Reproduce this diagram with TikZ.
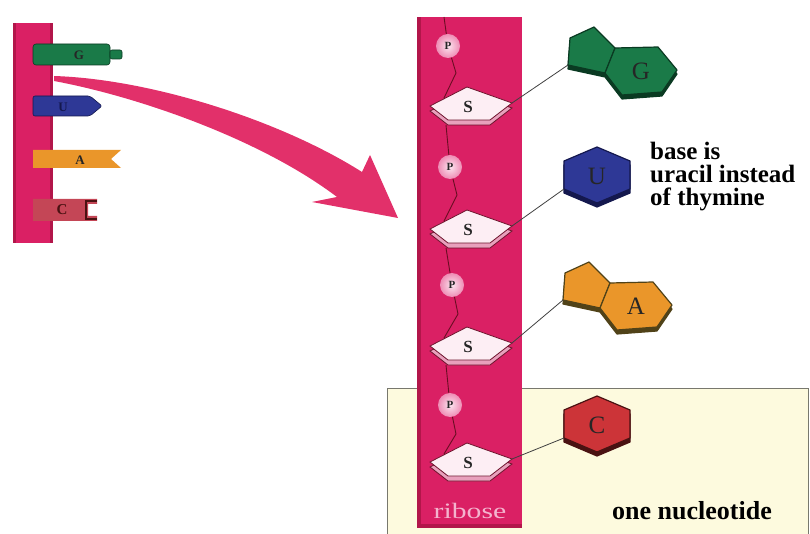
\documentclass[tikz,border=0pt]{standalone}
\usepackage{fontspec}
\setmainfont{Liberation Serif}
\definecolor{strand}{RGB}{218,32,100}
\definecolor{strandDark}{RGB}{178,22,74}
\definecolor{arrowPink}{RGB}{226,48,106}
\definecolor{boxYellow}{RGB}{253,250,222}
\definecolor{boxEdge}{RGB}{120,120,110}
\definecolor{gGreen}{RGB}{26,122,72}
\definecolor{gDark}{RGB}{10,58,34}
\definecolor{uBlue}{RGB}{46,56,150}
\definecolor{uDark}{RGB}{20,24,78}
\definecolor{aOrange}{RGB}{234,150,42}
\definecolor{aDark}{RGB}{80,66,24}
\definecolor{cRed}{RGB}{204,52,56}
\definecolor{cDark}{RGB}{74,18,18}
\definecolor{cTab}{RGB}{196,70,86}
\definecolor{sugarFill}{RGB}{253,238,244}
\definecolor{sugarSide}{RGB}{232,160,188}
\definecolor{sugarEdge}{RGB}{110,20,45}
\definecolor{backboneCol}{RGB}{105,14,34}
\definecolor{phosIn}{RGB}{252,230,240}
\definecolor{phosOut}{RGB}{238,140,180}
\definecolor{riboseText}{RGB}{244,180,206}
\begin{document}
\begin{tikzpicture}[x=1pt,y=-1pt,
  backbone/.style={draw=backboneCol, line width=0.9pt},
  link/.style={draw=black!75, line width=0.8pt},
  phos/.style={circle, minimum size=24pt, inner sep=0pt,
    shading=radial, inner color=phosIn, outer color=phosOut,
    font=\bfseries\fontsize{11}{11}\selectfont, text=black!85},
  baselabel/.style={font=\fontsize{25}{25}\selectfont, text=black!85},
  tablabel/.style={font=\bfseries\fontsize{13}{13}\selectfont},
  note/.style={font=\bfseries\fontsize{25}{23}\selectfont, align=left,
    inner sep=0pt},
  pics/sugar/.style={code={
    \filldraw[fill=sugarSide, draw=sugarEdge, line width=0.8pt]
      (-38,5) -- (-1,-14) -- (44,2) -- (22,19) -- (-20,19) -- cycle;
    \filldraw[fill=sugarFill, draw=sugarEdge, line width=0.8pt]
      (-38,0) -- (-1,-19) -- (44,-3) -- (22,14) -- (-20,14) -- cycle;
    \node[font=\bfseries\fontsize{17}{17}\selectfont, text=black!85] at (0,1) {S};
    \coordinate (-right) at (44,-3);
    \coordinate (-in) at (-24,-8);
    \coordinate (-out) at (-22,19);
  }},
  pics/purine/.style args={#1/#2/#3}{code={
    \filldraw[fill=#2, draw=#2, line width=1.2pt, line join=round]
      (0,4) -- (2,-23) -- (26,-34) -- (47,-13) -- (90,-14) -- (109,9)
      -- (94,31) -- (54,34) -- (37,12) -- cycle;
    \filldraw[fill=#1, draw=#2, line width=1.2pt, line join=round]
      (0,0) -- (2,-27) -- (26,-38) -- (47,-17) -- (37,8) -- cycle;
    \filldraw[fill=#1, draw=#2, line width=1.2pt, line join=round]
      (47,-17) -- (90,-18) -- (109,5) -- (94,27) -- (54,30) -- (37,8) -- cycle;
    \node[baselabel] at (73,6) {#3};
    \coordinate (-attach) at (0,0);
  }},
  pics/pyrimidine/.style args={#1/#2/#3}{code={
    \filldraw[fill=#2, draw=#2, line width=1.2pt, line join=round]
      (0,-24) -- (33,-10) -- (33,18) -- (0,32) -- (-33,18) -- (-33,-10) -- cycle;
    \filldraw[fill=#1, draw=#2, line width=1.2pt, line join=round]
      (0,-28) -- (33,-14) -- (33,14) -- (0,28) -- (-33,14) -- (-33,-14) -- cycle;
    \node[baselabel] at (0,1) {#3};
    \coordinate (-attach) at (-33,14);
  }}
]
\useasboundingbox (0,0) rectangle (810,534);

% ---- one nucleotide box (behind the strand)
\filldraw[fill=boxYellow, draw=boxEdge, line width=1pt] (387,388) rectangle (808,545);

% ---- short RNA strand with its bases as tabs
\fill[strand] (13,23) rectangle (53,243);
\fill[strandDark] (13,23) rectangle (16,243);
\fill[strandDark] (50,23) rectangle (53,243);

\filldraw[fill=gGreen, draw=gDark, line width=0.6pt, rounded corners=3pt]
  (33,44) rectangle (110,65);
\filldraw[fill=gGreen, draw=gDark, line width=0.6pt, rounded corners=2pt]
  (110,50) rectangle (122,59);
\node[tablabel, text=black!85] (tG) at (79,55) {G};

\filldraw[fill=uBlue, draw=uDark, line width=0.6pt, rounded corners=2pt]
  (33,96) -- (90,96) -- (102,106) -- (90,116) -- (33,116) -- cycle;
\node[tablabel, text=uDark] (tU) at (63,107) {U};

\fill[aOrange] (33,150) -- (121,150) -- (111,159) -- (121,168) -- (33,168) -- cycle;
\node[tablabel, text=black!85] (tA) at (80,160) {A};

\fill[cTab] (33,199) -- (97,199) -- (97,204) -- (88,204) -- (88,216) -- (97,216)
  -- (97,221) -- (33,221) -- cycle;
\draw[cDark, line width=1.2pt] (97,201) -- (86,201) -- (86,219) -- (97,219);
\node[tablabel, text=cDark, font=\bfseries\fontsize{15}{15}\selectfont] (tC) at (62,210) {C};

% ---- curved arrow into the long strand
\coordinate (arrowTail) at (54,78);
\coordinate (arrowTip) at (398,218);
\fill[arrowPink]
  (54,76) .. controls (150,79) and (280,120) .. (362,172)
  -- (370,155) -- (arrowTip) -- (312,202) -- (337,197)
  .. controls (262,140) and (140,97) .. (54,81) -- cycle;

% ---- long strand
\fill[strand] (417,17) rectangle (522,528);
\fill[strandDark] (417,17) rectangle (421,528);
\fill[strandDark] (417,524) rectangle (522,528);
\node[font=\fontsize{22}{22}\selectfont, text=riboseText, xscale=1.35, anchor=base]
  (ribose) at (470,518) {ribose};

% sugars
\pic (s1) at (468,106) {sugar};
\pic (s2) at (468,229) {sugar};
\pic (s3) at (468,346) {sugar};
\pic (s4) at (468,462) {sugar};

% phosphates
\node[phos] (p1) at (448,46) {P};
\node[phos] (p2) at (450,167) {P};
\node[phos] (p3) at (452,285) {P};
\node[phos] (p4) at (450,405) {P};

% sugar-phosphate backbone
\coordinate (top) at (444,17);
\coordinate (k1) at (456,73);
\coordinate (k2) at (457,195);
\coordinate (k3) at (458,314);
\coordinate (k4) at (456,434);
\draw[backbone] (top) -- (p1);
\draw[backbone] (p1) -- (k1) -- (s1-in);
\draw[backbone] (s1-out) -- (p2);
\draw[backbone] (p2) -- (k2) -- (s2-in);
\draw[backbone] (s2-out) -- (p3);
\draw[backbone] (p3) -- (k3) -- (s3-in);
\draw[backbone] (s3-out) -- (p4);
\draw[backbone] (p4) -- (k4) -- (s4-in);

% bases
\pic (g) at (568,65) {purine={gGreen/gDark/G}};
\pic (u) at (597,175) {pyrimidine={uBlue/uDark/U}};
\pic (a) at (563,300) {purine={aOrange/aDark/A}};
\pic (c) at (597,424) {pyrimidine={cRed/cDark/C}};

\draw[link] (s1-right) -- (g-attach);
\draw[link] (s2-right) -- (u-attach);
\draw[link] (s3-right) -- (a-attach);
\draw[link] (s4-right) -- (c-attach);

% labels
\node[note, anchor=north west] (uracil) at (650,142)
  {base is\\uracil instead\\of thymine};
\node[font=\bfseries\fontsize{26}{26}\selectfont, anchor=base] (nucleotide)
  at (692,519) {one nucleotide};
\end{tikzpicture}
\end{document}
